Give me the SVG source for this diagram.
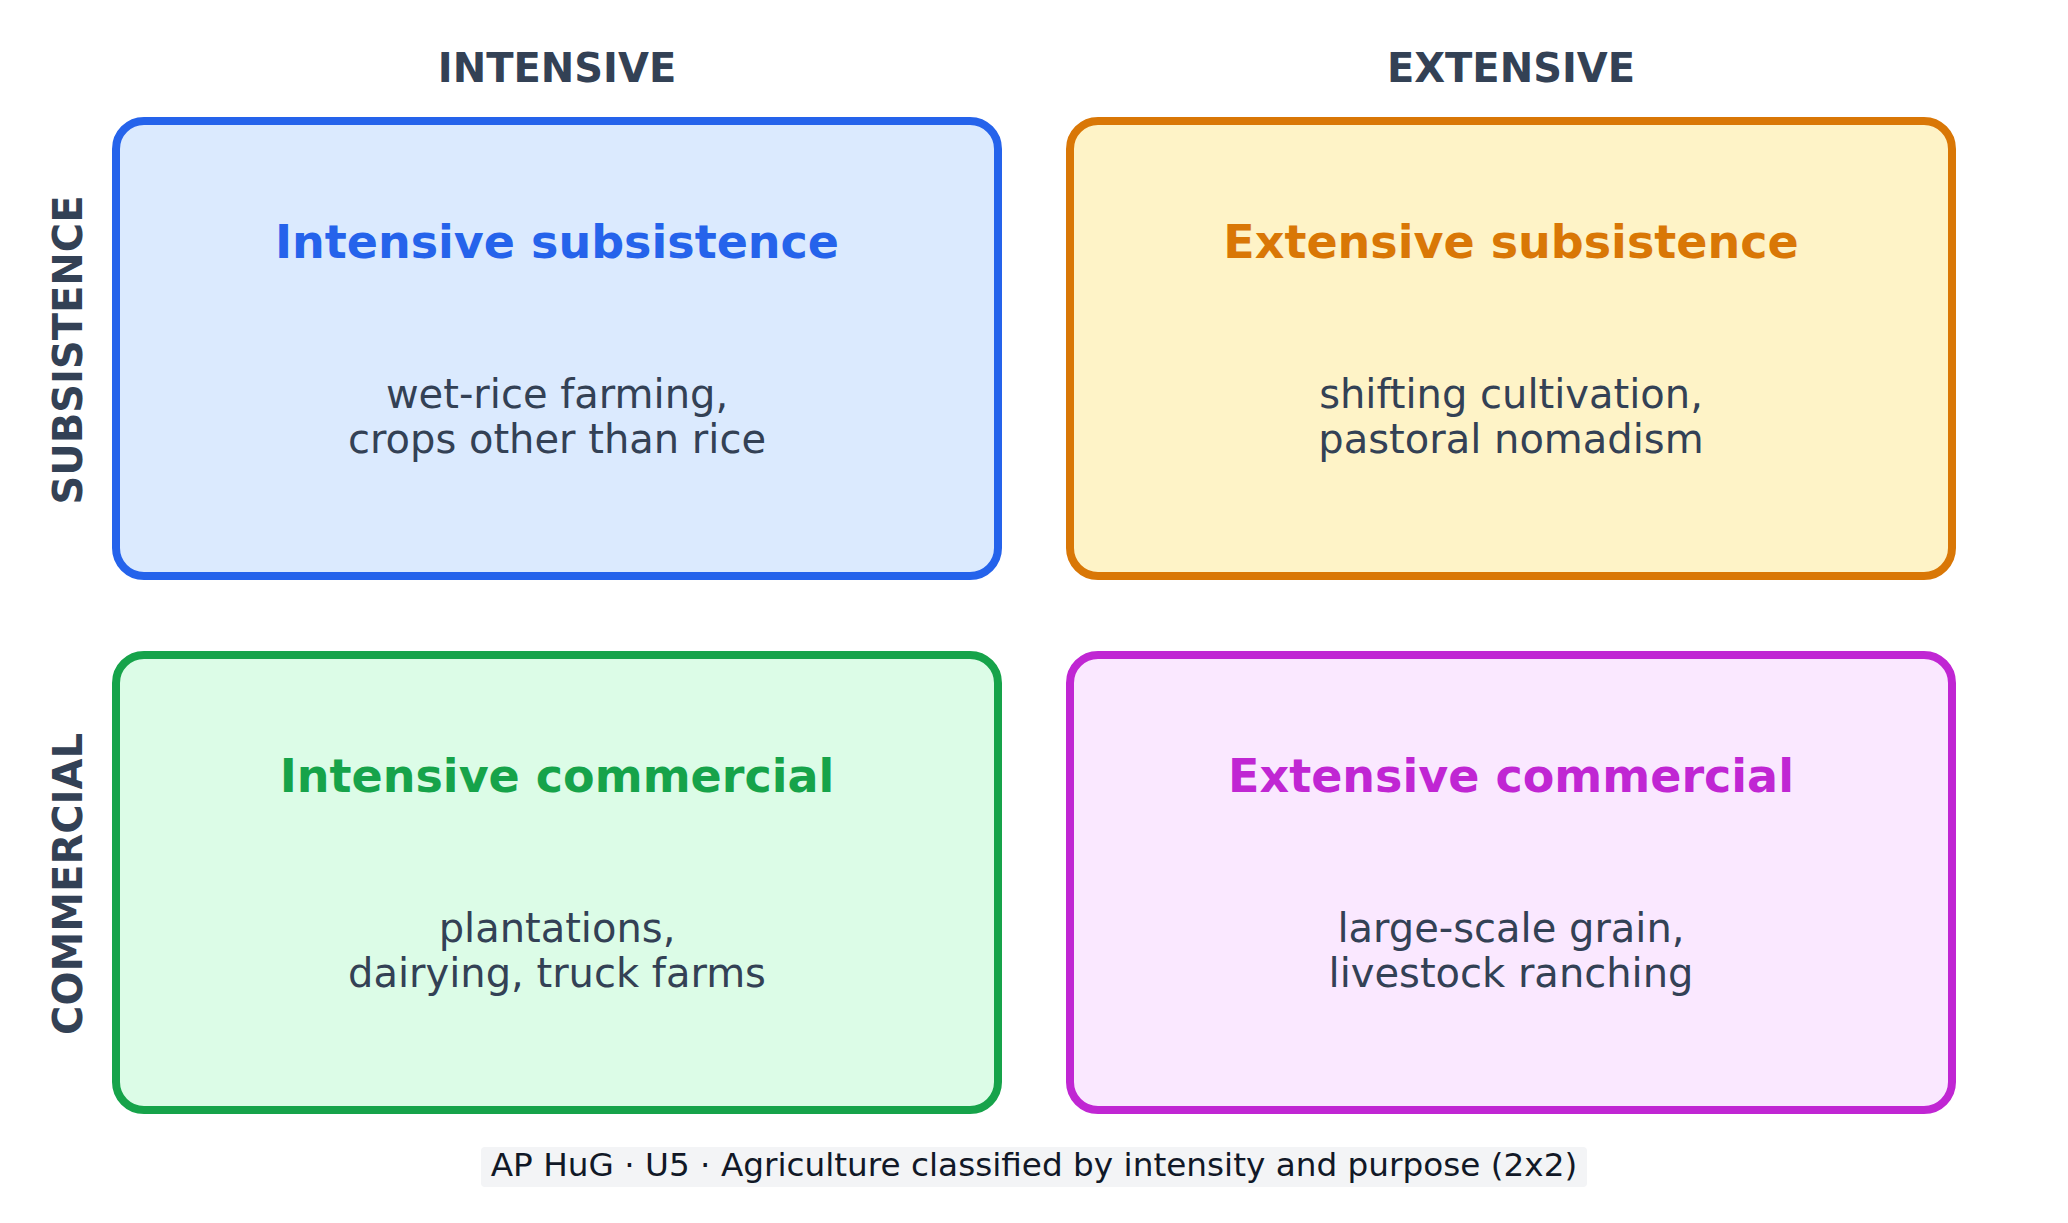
<svg xmlns="http://www.w3.org/2000/svg" width="2068" height="1223" viewBox="0 0 2068 1223">
<style>
.hdr{font-family:"DejaVu Sans",sans-serif;font-weight:bold;font-size:40px;fill:#334155;text-anchor:middle}
.side{font-family:"DejaVu Sans",sans-serif;font-weight:bold;font-size:40px;fill:#334155;text-anchor:middle}
.title{font-family:"DejaVu Sans",sans-serif;font-weight:bold;font-size:46px;text-anchor:middle}
.body{font-family:"DejaVu Sans",sans-serif;font-size:40px;fill:#334155;text-anchor:middle}
.box{stroke-width:8}
.foot{font-family:"DejaVu Sans",sans-serif;font-size:32.7px;fill:#111827;text-anchor:middle}
</style>
<rect width="2068" height="1223" fill="#ffffff"/>
<g id="axis-labels">
<text class="hdr" x="557" y="82">INTENSIVE</text>
<text class="hdr" x="1511" y="82">EXTENSIVE</text>
<text class="side" transform="translate(82,350) rotate(-90)" x="0" y="0">SUBSISTENCE</text>
<text class="side" transform="translate(82,884) rotate(-90)" x="0" y="0">COMMERCIAL</text>
</g>
<g id="connectors"></g>
<g id="intensive-subsistence">
<rect class="box" x="116" y="121" width="882" height="455" rx="28" fill="#dbeafe" stroke="#2563eb"/>
<text class="title" x="557" y="258" fill="#2563eb">Intensive subsistence</text>
<text class="body" x="557" y="408">wet-rice farming,</text>
<text class="body" x="557" y="453">crops other than rice</text>
</g>
<g id="extensive-subsistence">
<rect class="box" x="1070" y="121" width="882" height="455" rx="28" fill="#fef3c7" stroke="#d97706"/>
<text class="title" x="1511" y="258" fill="#d97706">Extensive subsistence</text>
<text class="body" x="1511" y="408">shifting cultivation,</text>
<text class="body" x="1511" y="453">pastoral nomadism</text>
</g>
<g id="intensive-commercial">
<rect class="box" x="116" y="655" width="882" height="455" rx="28" fill="#dcfce7" stroke="#16a34a"/>
<text class="title" x="557" y="792" fill="#16a34a">Intensive commercial</text>
<text class="body" x="557" y="942">plantations,</text>
<text class="body" x="557" y="987">dairying, truck farms</text>
</g>
<g id="extensive-commercial">
<rect class="box" x="1070" y="655" width="882" height="455" rx="28" fill="#fae8ff" stroke="#c026d3"/>
<text class="title" x="1511" y="792" fill="#c026d3">Extensive commercial</text>
<text class="body" x="1511" y="942">large-scale grain,</text>
<text class="body" x="1511" y="987">livestock ranching</text>
</g>
<g id="footer">
<rect x="481" y="1147" width="1106" height="40" rx="4" fill="#f3f4f6"/>
<text class="foot" x="1034" y="1176">AP HuG · U5 · Agriculture classified by intensity and purpose (2x2)</text>
</g>
</svg>
